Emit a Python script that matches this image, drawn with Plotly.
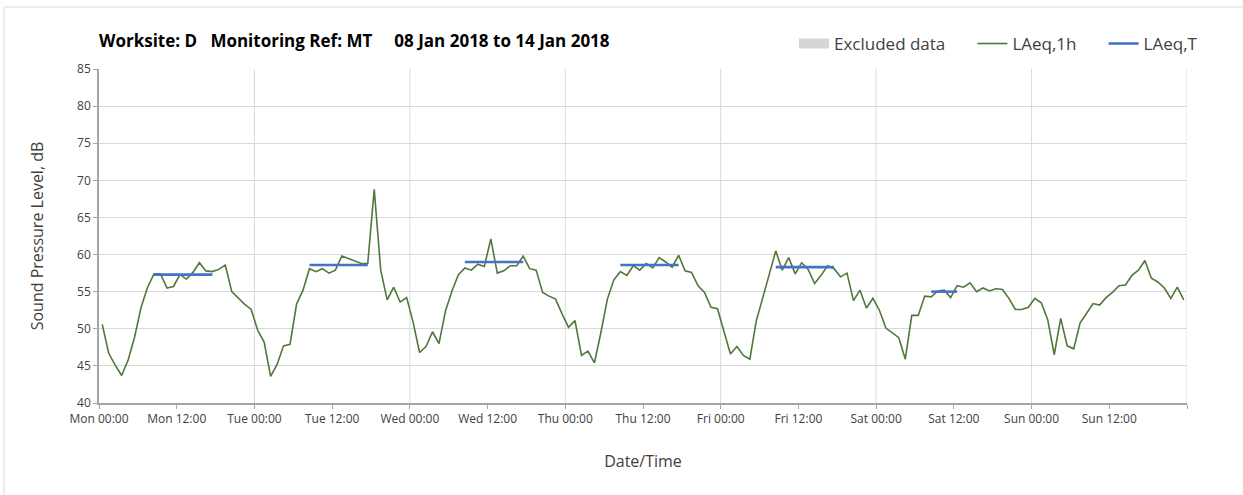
import pandas as pd
import plotly.graph_objects as go

# Hourly LAeq,1h values (dB), Monday 00:00 through Sunday 23:00
laeq_mon = [50.6, 46.7, 45.1, 43.7, 45.8, 48.9, 52.9, 55.6, 57.4, 57.4, 55.5, 55.7,
            57.3, 56.7, 57.6, 58.9, 57.8, 57.7, 58.0, 58.6, 55.0, 54.1, 53.3, 52.6]
laeq_tue = [49.8, 48.2, 43.6, 45.2, 47.7, 47.9, 53.3, 55.2, 58.1, 57.7, 58.1, 57.5,
            57.9, 59.8, 59.5, 59.1, 58.8, 58.8, 68.8, 57.9, 53.9, 55.6, 53.6, 54.2]
laeq_wed = [50.9, 46.8, 47.6, 49.6, 48.0, 52.4, 55.1, 57.3, 58.2, 57.9, 58.7, 58.4,
            62.1, 57.5, 57.8, 58.5, 58.5, 59.8, 58.1, 57.9, 54.9, 54.4, 54.0, 52.0]
laeq_thu = [50.2, 51.1, 46.4, 47.0, 45.4, 49.5, 54.0, 56.6, 57.7, 57.2, 58.5, 57.9,
            58.8, 58.2, 59.6, 59.0, 58.3, 59.9, 57.8, 57.6, 55.8, 54.9, 52.9, 52.7]
laeq_fri = [49.7, 46.6, 47.6, 46.4, 45.9, 51.1, 54.2, 57.3, 60.5, 57.9, 59.6, 57.4,
            58.9, 58.0, 56.1, 57.2, 58.5, 58.1, 57.0, 57.5, 53.8, 55.2, 52.8, 54.1]
laeq_sat = [52.5, 50.1, 49.4, 48.8, 45.9, 51.8, 51.8, 54.4, 54.3, 55.1, 55.2, 54.2,
            55.8, 55.6, 56.2, 55.0, 55.5, 55.1, 55.4, 55.3, 54.1, 52.6, 52.6, 52.9]
laeq_sun = [54.1, 53.5, 51.2, 46.5, 51.4, 47.7, 47.3, 50.8, 52.1, 53.4, 53.2, 54.2,
            54.9, 55.8, 55.9, 57.2, 57.9, 59.2, 56.8, 56.3, 55.5, 54.1, 55.6, 53.9]

# Daytime assessment periods: day index (0 = Mon), first and last hour, LAeq,T (dB)
period_day = [0, 1, 2, 3, 4, 5]
period_first_hour = [8, 8, 8, 8, 8, 8]
period_last_hour = [17, 17, 17, 17, 17, 12]
laeq_t = [57.3, 58.6, 59.0, 58.6, 58.3, 55.0]

week_start = pd.Timestamp("2018-01-08 00:00")
week_end = week_start + pd.Timedelta(days=7)

laeq_1h = laeq_mon + laeq_tue + laeq_wed + laeq_thu + laeq_fri + laeq_sat + laeq_sun
hour_start = pd.date_range(week_start, periods=len(laeq_1h), freq="h")
hour_mid = hour_start + pd.Timedelta(minutes=30)

GREEN = "#4f783a"
BLUE = "#4472c4"
GRID = "#d9d9d9"
AXIS = "#a6a6a6"
TEXT = "#404040"
FONT = "'Open Sans', sans-serif"
PAD = "\u00a0" * 5  # extra room after a legend entry

fig = go.Figure()

fig.add_trace(go.Scatter(
    x=[None], y=[None], mode="lines", name="Excluded data" + PAD,
    line=dict(color="#d6d6d6", width=10), hoverinfo="skip",
))

fig.add_trace(go.Scatter(
    x=hour_mid, y=laeq_1h, mode="lines", name="LAeq,1h" + PAD,
    line=dict(color=GREEN, width=1.6),
))

# One horizontal segment per assessment period, separated by gaps
seg_x, seg_y = [], []
for d, h0, h1, v in zip(period_day, period_first_hour, period_last_hour, laeq_t):
    day0 = week_start + pd.Timedelta(days=d)
    seg_x += [day0 + pd.Timedelta(hours=h0, minutes=30),
              day0 + pd.Timedelta(hours=h1, minutes=30), None]
    seg_y += [v, v, None]
fig.add_trace(go.Scatter(
    x=seg_x, y=seg_y, mode="lines", name="LAeq,T",
    line=dict(color=BLUE, width=2.6), connectgaps=False,
))

# Vertical gridlines at midnight of each day
shapes = []
for d in range(1, 8):
    t = week_start + pd.Timedelta(days=d)
    shapes.append(dict(type="line", xref="x", yref="paper", x0=t, x1=t, y0=0, y1=1,
                       line=dict(color=GRID, width=1), layer="below"))

# Outer chart frame (left and top edges)
shapes.append(dict(type="line", xref="paper", yref="paper", x0=-0.0873, x1=-0.0873,
                   y0=-0.28, y1=1.1856, line=dict(color=GRID, width=1)))
shapes.append(dict(type="line", xref="paper", yref="paper", x0=-0.0873, x1=1.06,
                   y0=1.1856, y1=1.1856, line=dict(color=GRID, width=1)))

tick_vals = pd.date_range(week_start, periods=14, freq="12h")

fig.update_layout(
    width=1243, height=495,
    margin=dict(l=99, r=56, t=69, b=92),
    paper_bgcolor="white", plot_bgcolor="white",
    font=dict(family=FONT, color=TEXT, size=12),
    shapes=shapes,
    showlegend=True,
    legend=dict(orientation="h", xanchor="right", x=1.0147, yanchor="middle", y=1.075,
                font=dict(size=17, color=TEXT), bgcolor="rgba(0,0,0,0)",
                itemwidth=30, tracegroupgap=0),
    annotations=[dict(
        text="<b>Worksite: D\u00a0\u00a0\u00a0Monitoring Ref: MT\u00a0\u00a0\u00a0\u00a0\u00a0"
             "08 Jan 2018 to 14 Jan 2018</b>",
        xref="paper", yref="paper", x=-0.002, y=1.084, xanchor="left", yanchor="middle",
        showarrow=False, font=dict(size=17, color="#000000"),
    )],
    xaxis=dict(
        type="date",
        range=[week_start, week_end],
        tickmode="array", tickvals=tick_vals, tickformat="%a %H:%M",
        ticks="outside", ticklen=4, tickcolor=AXIS, tickfont=dict(size=12, color=TEXT),
        showgrid=False, showline=True, linecolor=AXIS, linewidth=1.5, zeroline=False,
        minor=dict(tickmode="array", tickvals=[week_end], ticks="outside", ticklen=4,
                   tickcolor=AXIS, showgrid=False),
        title=dict(text="Date/Time", font=dict(size=16, color=TEXT), standoff=30),
    ),
    yaxis=dict(
        range=[40, 85], dtick=5, tick0=40,
        ticks="outside", ticklen=4, tickcolor=AXIS, tickfont=dict(size=12, color=TEXT),
        showgrid=True, gridcolor=GRID, gridwidth=1,
        showline=True, linecolor=AXIS, linewidth=1.5, zeroline=False,
        title=dict(text="Sound Pressure Level, dB", font=dict(size=16, color=TEXT), standoff=30),
    ),
)

fig.write_html("out.html")
